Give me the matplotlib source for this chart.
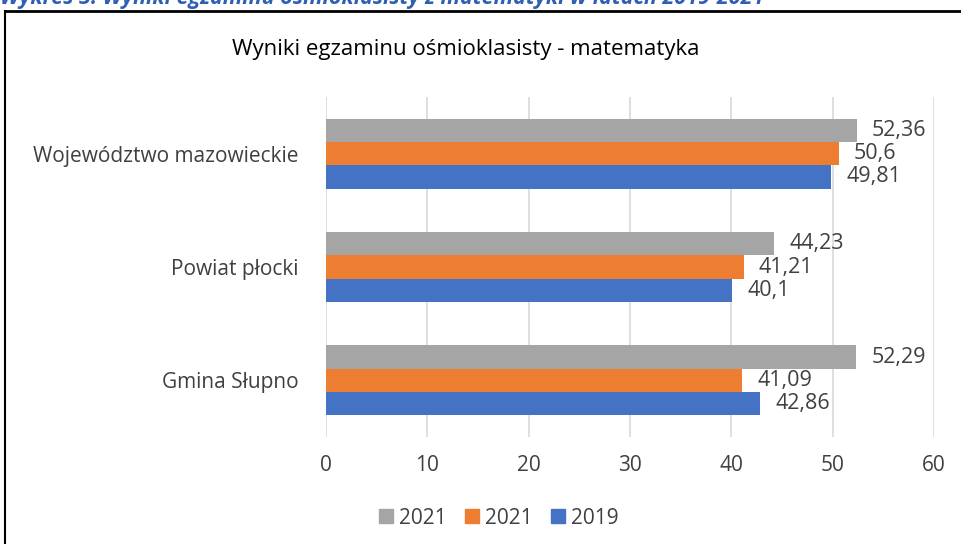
import matplotlib
matplotlib.use("Agg")
import numpy as np
from matplotlib import pyplot as plt
from matplotlib.lines import Line2D
from matplotlib.patches import Patch

categories = ["Województwo mazowieckie", "Powiat płocki", "Gmina Słupno"]
vals_2019 = [49.81, 40.1, 42.86]
vals_2021a = [50.6, 41.21, 41.09]
vals_2021b = [52.36, 44.23, 52.29]
labels_2019 = ["49,81", "40,1", "42,86"]
labels_2021a = ["50,6", "41,21", "41,09"]
labels_2021b = ["52,36", "44,23", "52,29"]
xticks = [0, 10, 20, 30, 40, 50, 60]

plt.rcParams['font.family'] = ['Open Sans', 'DejaVu Sans']
txt = '#404040'

fig = plt.figure(figsize=(9.62, 5.44), dpi=100)
ax = fig.add_axes([326/962, 1-437/544, 608/962, 340/544])

y = np.arange(len(categories))
h = 0.205
series = [(vals_2021b, labels_2021b, '#a5a5a5', -h),
          (vals_2021a, labels_2021a, '#ed7d31', 0),
          (vals_2019, labels_2019, '#4472c4', h)]
for vals, labs, col, off in series:
    ax.barh(y + off, vals, height=h, color=col, zorder=3)
    for yi, v, lab in zip(y, vals, labs):
        ax.annotate(lab, (v, yi + off), xytext=(11, 0), textcoords='offset points',
                    va='center', ha='left', fontsize=15.5, color=txt)

ax.set_xlim(0, 60)
ax.set_ylim(len(categories) - 0.5, -0.5)
ax.set_xticks(xticks)
ax.set_xticklabels([str(t) for t in xticks], fontsize=15, color=txt)
ax.set_yticks(y)
ax.set_yticklabels(categories, fontsize=15, color=txt)
ax.tick_params(length=0, pad=20, axis='y')
ax.tick_params(length=0, pad=13, axis='x')
ax.grid(axis='x', color='#d9d9d9', lw=1.2, zorder=0)
for s in ax.spines.values():
    s.set_visible(False)

fig.text(466/962, 1-50/544, "Wyniki egzaminu ośmioklasisty - matematyka",
         ha='center', va='center', fontsize=16, color='black')

handles = [Patch(color='#a5a5a5'), Patch(color='#ed7d31'), Patch(color='#4472c4')]
fig.legend(handles, ["2021", "2021", "2019"], loc='center', bbox_to_anchor=(499/962, 1-518/544),
           ncol=3, frameon=False, fontsize=15, handlelength=0.65, handleheight=0.65,
           handletextpad=0.3, columnspacing=0.9, labelcolor=txt)

# caption cut off at the top and frame of the chart
fig.text(0, 1-4/544, "Wykres 5: Wyniki egzaminu ośmioklasisty z matematyki w latach 2019-2021",
         ha='left', va='baseline', fontsize=15.5, color='#2f5fb3', fontweight='bold', fontstyle='italic')
fig.add_artist(Line2D([5/962, 1], [1-11/544, 1-11/544], color='black', lw=2))
fig.add_artist(Line2D([5/962, 5/962], [1-11/544, 0], color='black', lw=1.5))

fig.savefig("out.png", dpi=100)
